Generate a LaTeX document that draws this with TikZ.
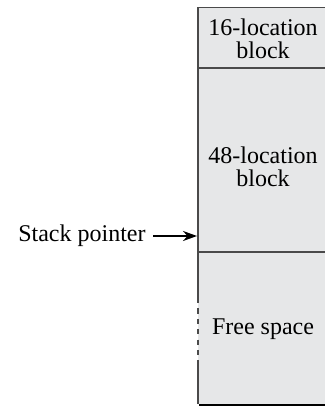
\documentclass[tikz,border=0pt]{standalone}
\usepackage{fontspec}
\setmainfont{Liberation Serif}
\usetikzlibrary{arrows.meta}
\definecolor{blockfill}{HTML}{E6E7E8}
\definecolor{edge}{HTML}{4A4A4A}
\begin{document}
\begin{tikzpicture}[x=0.5pt,y=-0.5pt,
  lbl/.style={align=center,font=\fontsize{12}{11.5}\selectfont,inner sep=0pt},
  edgeline/.style={draw=edge,line width=0.7pt},
  pointer/.style={-{Stealth[length=7pt,width=5pt]},line width=1.1pt,black}]
\useasboundingbox (0,0) rectangle (325,406);
\begin{scope}
\clip (0,0) rectangle (325,406);
\fill[blockfill] (198,7.5) rectangle (330,404);
\draw[edgeline] (198,7.5) -- (330,7.5);
\draw[edgeline] (198,68) -- (330,68);
\draw[edgeline] (198,252) -- (330,252);
\draw[draw=black,line width=1pt] (199,404.5) -- (330,404.5);
\draw[edgeline] (198,7.5) -- (198,298);
\draw[edgeline,dash pattern=on 2.6pt off 2.6pt] (198,298) -- (198,360);
\draw[edgeline] (198,360) -- (198,404);
\end{scope}
\node[lbl] (b16) at (263,39) {16-location\\block};
\node[lbl] (b48) at (263,167) {48-location\\block};
\node[lbl] (free) at (263,329) {Free space};
\node[lbl,anchor=east] (sp) at (146,236) {Stack pointer};
\coordinate (spt) at (197,236);
\draw[pointer] ([xshift=3.5pt]sp.east) -- (spt);
\end{tikzpicture}
\end{document}
